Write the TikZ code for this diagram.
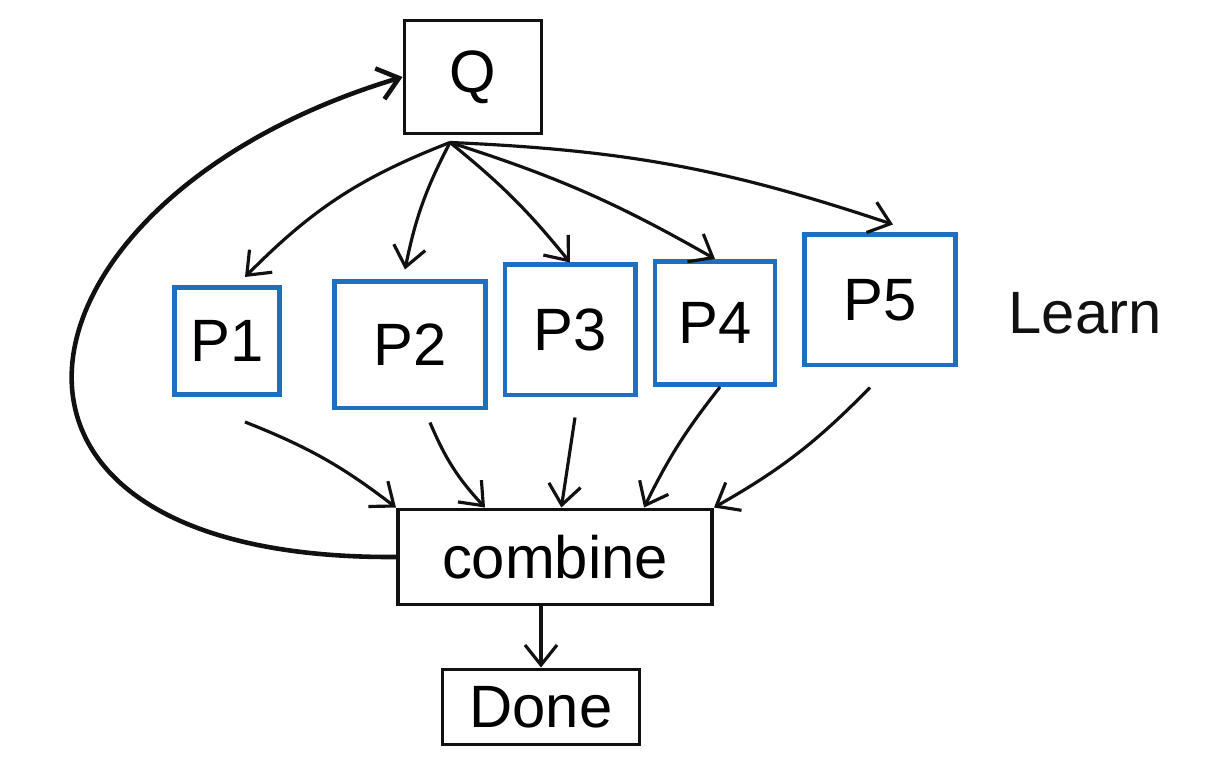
\documentclass[tikz,border=0pt]{standalone}
\usepackage{fontspec}
\setsansfont{Liberation Sans}
\usetikzlibrary{
  arrows.meta,
  calc,
  positioning
}
\definecolor{penBlue}{HTML}{1E6FC0}
\definecolor{penBlack}{HTML}{111111}
\tikzset{
  box/.style={
    draw=penBlack,
    line width=1.1pt,
    font=\sffamily\fontsize{17}{20}\selectfont,
    inner sep=2pt
  },
  task/.style={
    box,
    draw=penBlue,
    line width=1.4pt
  },
  arr/.style={-{Straight Barb[length=2mm,width=3.2mm]}, line width=0.9pt, draw=penBlack},
  loop/.style={arr, line width=1.3pt},
  note/.style={font=\sffamily\fontsize{17}{20}\selectfont, text=penBlack}
}

\begin{document}
\begin{tikzpicture}[x=0.01cm, y=-0.01cm]
\useasboundingbox (0,0) rectangle (1232,782);

% --- Queue and tasks ---
\node[box, minimum width=1.37cm, minimum height=1.13cm] (Q) at (473,77) {Q};

\node[task, minimum width=1.05cm, minimum height=1.07cm] (p1) at (227,341) {P1};
\node[task, minimum width=1.50cm, minimum height=1.26cm] (p2) at (410,345) {P2};
\node[task, minimum width=1.30cm, minimum height=1.30cm] (p3) at (570,330) {P3};
\node[task, minimum width=1.20cm, minimum height=1.23cm] (p4) at (715,323) {P4};
\node[task, minimum width=1.50cm, minimum height=1.30cm] (p5) at (880,300) {P5};

\node[note] (learn) at (1085,313) {Learn};

% --- Combine and finish ---
\node[box, minimum width=3.14cm, minimum height=0.95cm] (combine) at (555,557) {combine};
\node[box, minimum width=1.97cm, minimum height=0.75cm] (done) at (541,707) {Done};

\coordinate (qout) at ($(Q.south)+(-23,7)$);

% --- Fan out ---
\draw[arr] (qout) to[bend right=12] ($(p1.north)+(18,-8)$);
\draw[arr] (qout) to[bend right=8] ($(p2.north)+(-5,-10)$);
\draw[arr] (qout) to[bend left=6] (p3.north);
\draw[arr] (qout) to[bend left=6] (p4.north);
\draw[arr] (qout) to[bend left=8] ($(p5.north)+(13,-8)$);

% --- Fan in ---
\draw[arr] ($(p1.south)+(18,25)$) to[bend left=8] (combine.north west);
\draw[arr] ($(p2.south)+(20,12)$) to[bend right=10] ($(combine.north west)!.28!(combine.north east)$);
\draw[arr] ($(p3.south)+(5,20)$) -- ($(combine.north west)!.52!(combine.north east)$);
\draw[arr] ($(p4.south)+(5,0)$) to[bend right=6] ($(combine.north west)!.78!(combine.north east)$);
\draw[arr] ($(p5.south)+(-10,20)$) to[bend left=8] (combine.north east);

% --- Loop back and done ---
\draw[loop] (combine.west) .. controls +(-470,3) and +(-400,120) .. (Q.west);
\draw[arr] (done.north |- combine.south) -- (done.north);

\end{tikzpicture}
\end{document}
